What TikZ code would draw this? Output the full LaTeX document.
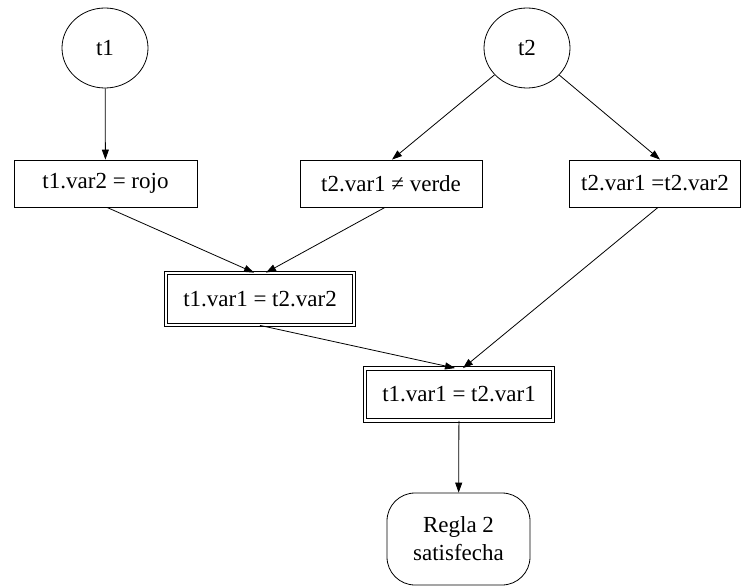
\documentclass[tikz,border=0pt]{standalone}
\usepackage{fontspec}
\setmainfont{Liberation Serif}
\usetikzlibrary{arrows.meta,calc,shapes.geometric}
\begin{document}
\begin{tikzpicture}[x=1pt,y=-1pt,
  every node/.style={font=\fontsize{23}{26}\selectfont, line width=0.8pt},
  tnode/.style={draw, ellipse, minimum width=86pt, minimum height=80pt, inner sep=0pt},
  cond/.style={draw, rectangle, minimum height=47pt, inner sep=0pt},
  joinbox/.style={draw, rectangle, double, double distance=2.6pt, minimum height=52pt, inner sep=0pt},
  goal/.style={draw, rectangle, rounded corners=28pt, minimum width=143pt, minimum height=92pt, align=center, inner sep=0pt, font=\fontsize{23}{28}\selectfont},
  conn/.style={-{Triangle[length=10pt,width=7pt]}, line width=0.8pt}]
\useasboundingbox (0,0) rectangle (741,588);

% alpha memories
\node[tnode] (t1) at (105,48) {t1};
\node[tnode] (t2) at (527,48) {t2};

% constant tests
\node[cond, minimum width=183pt] (c1) at (105.5,183.5) {t1.var2 = rojo};
\node[cond, minimum width=182pt] (c2) at (391,183.5) {t2.var1 ≠ verde};
\node[cond, minimum width=171pt] (c3) at (655,183.5) {t2.var1 =t2.var2};

% join nodes
\node[joinbox, minimum width=188pt] (j1) at (260,299) {t1.var1 = t2.var2};
\node[joinbox, minimum width=188pt] (j2) at (459,394.5) {t1.var1 = t2.var1};

% terminal node
\node[goal] (r) at (458.5,539) {Regla 2\\satisfecha};

% connectors
\draw[conn] (t1) -- (c1);
\draw[conn] (t2) -- (c2.north -| 392,0);
\draw[conn] (t2) -- (c3.north -| 660,0);
\draw[conn] (c1.south -| 107,0) -- (j1.north -| 254,0);
\draw[conn] (c2.south -| 385,0) -- (j1.north -| 266,0);
\draw[conn] (j1.south -| 260,0) -- (j2.north -| 455,0);
\draw[conn] (c3.south -| 658,0) -- (j2.north -| 463,0);
\draw[conn] (j2) -- (r);
\end{tikzpicture}
\end{document}
